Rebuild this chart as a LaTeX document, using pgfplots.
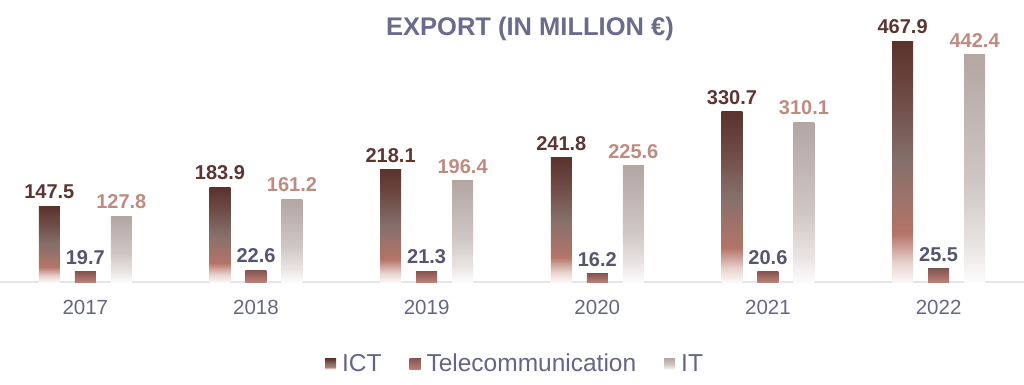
\documentclass[border=0pt]{standalone}
\usepackage{pgfplots}
\pgfplotsset{compat=1.18}
\usepackage{fontspec}
\setmainfont{Liberation Sans}
\definecolor{ictlab}{HTML}{5C3530}
\definecolor{tellab}{HTML}{555572}
\definecolor{itlab}{HTML}{C08A80}
\definecolor{titlecol}{HTML}{6B6B8E}
\definecolor{tickcol}{HTML}{65658A}
\definecolor{linecol}{HTML}{E4E4EC}
\definecolor{ictA}{HTML}{5B322C}
\definecolor{ictB}{HTML}{6F4C46}
\definecolor{ictC}{HTML}{85706B}
\definecolor{ictD}{HTML}{B57468}
\definecolor{ictE}{HTML}{E8D2CE}
\definecolor{ictF}{HTML}{FBF7F7}
\definecolor{telA}{HTML}{855550}
\definecolor{telB}{HTML}{B98075}
\definecolor{itA}{HTML}{B3A6A3}
\definecolor{itB}{HTML}{CFC6C4}
\definecolor{itC}{HTML}{E9E4E3}
\definecolor{itD}{HTML}{FDFCFC}
\pgfdeclareverticalshading{ictshade}{100bp}{color(0bp)=(ictF); color(25bp)=(ictF); color(29bp)=(ictE); color(35bp)=(ictD); color(50bp)=(ictC); color(63bp)=(ictB); color(75bp)=(ictA); color(100bp)=(ictA)}
\pgfdeclareverticalshading{telshade}{100bp}{color(0bp)=(telB); color(25bp)=(telB); color(75bp)=(telA); color(100bp)=(telA)}
\pgfdeclareverticalshading{itshade}{100bp}{color(0bp)=(itD); color(25bp)=(itD); color(33bp)=(itC); color(47bp)=(itB); color(75bp)=(itA); color(100bp)=(itA)}
\begin{document}
\begin{tikzpicture}
\begin{axis}[
  scale only axis,
  width=1024bp, height=282bp,
  xmin=-0.5, xmax=5.5,
  ymin=0, ymax=548,
  ybar, bar width=21bp,
  hide y axis,
  axis x line=bottom,
  x axis line style={-, draw=linecol, line width=1.5bp},
  xtick={0,1,2,3,4,5},
  xticklabels={2017,2018,2019,2020,2021,2022},
  major tick length=0pt,
  xticklabel style={font=\fontsize{20.5bp}{24bp}\selectfont, text=tickcol, inner sep=0pt, anchor=north, yshift=-18bp},
  point meta=explicit symbolic,
  nodes near coords,
  nodes near coords style={anchor=south, inner sep=0pt, yshift=7bp, font=\bfseries\fontsize{20bp}{24bp}\selectfont},
  ict/.style={draw=none, shading=ictshade, bar shift=-36bp, forget plot,
    every node near coord/.append style={text=ictlab}},
  tel/.style={draw=none, shading=telshade, bar shift=0bp, forget plot,
    every node near coord/.append style={text=tellab}},
  itp/.style={draw=none, shading=itshade, bar shift=36bp, forget plot,
    every node near coord/.append style={text=itlab}},
  legend columns=3,
  legend style={draw=none, fill=none, at={(0.503,-0.29)}, anchor=center,
    font=\fontsize{24.5bp}{28bp}\selectfont, text=tickcol,
    /tikz/every odd column/.append style={column sep=4bp},
    /tikz/every even column/.append style={column sep=26bp}},
  legend image code/.code={\fill[#1] (0bp,-5.5bp) rectangle (11bp,5.5bp);},
  clip=false,
]
% ICT
\addplot[ict] coordinates {(0,147.5)[147.5]};
\addplot[ict] coordinates {(1,183.9)[183.9]};
\addplot[ict] coordinates {(2,218.1)[218.1]};
\addplot[ict] coordinates {(3,241.8)[241.8]};
\addplot[ict] coordinates {(4,330.7)[330.7]};
\addplot[ict] coordinates {(5,467.9)[467.9]};
% Telecommunication
\addplot[tel] coordinates {(0,19.7)[19.7]};
\addplot[tel] coordinates {(1,22.6)[22.6]};
\addplot[tel] coordinates {(2,21.3)[21.3]};
\addplot[tel] coordinates {(3,16.2)[16.2]};
\addplot[tel] coordinates {(4,20.6)[20.6]};
\addplot[tel] coordinates {(5,25.5)[25.5]};
% IT
\addplot[itp] coordinates {(0,127.8)[127.8]};
\addplot[itp] coordinates {(1,161.2)[161.2]};
\addplot[itp] coordinates {(2,196.4)[196.4]};
\addplot[itp] coordinates {(3,225.6)[225.6]};
\addplot[itp] coordinates {(4,310.1)[310.1]};
\addplot[itp] coordinates {(5,442.4)[442.4]};
\addlegendimage{draw=none, shading=ictshade}
\addlegendentry{ICT}
\addlegendimage{draw=none, shading=telshade}
\addlegendentry{Telecommunication}
\addlegendimage{draw=none, shading=itshade}
\addlegendentry{IT}
\end{axis}
\node[anchor=base, text=titlecol, font=\bfseries\fontsize{25.5bp}{30bp}\selectfont, inner sep=0pt] at (530bp,246bp) {EXPORT (IN MILLION €)};
\pgfresetboundingbox
\path (0bp,-103bp) rectangle (1024bp,282bp);
\end{tikzpicture}
\end{document}
